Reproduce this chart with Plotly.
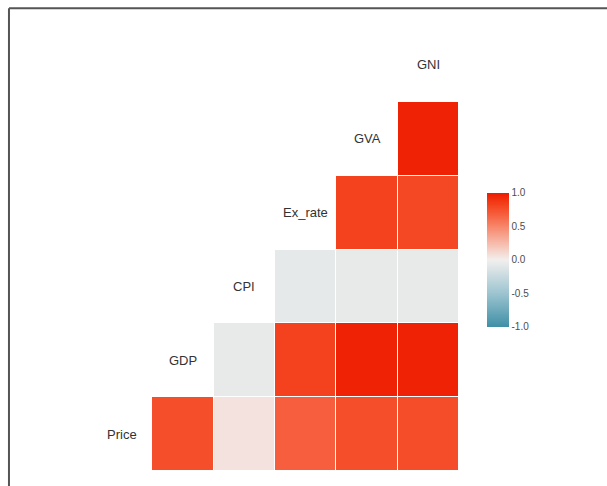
import plotly.graph_objects as go

variables = ["Price", "GDP", "CPI", "Ex_rate", "GVA", "GNI"]

# Pairwise correlations: each row lists the correlation of that variable
# with every variable that follows it in `variables`.
corr_price = [0.76, 0.06, 0.68, 0.76, 0.77]
corr_gdp = [-0.06, 0.82, 0.97, 0.97]
corr_cpi = [-0.07, -0.06, -0.06]
corr_ex_rate = [0.82, 0.79]
corr_gva = [0.97]

upper_rows = [corr_price, corr_gdp, corr_cpi, corr_ex_rate, corr_gva, []]

n = len(variables)
z = []
for i, row in enumerate(upper_rows):
    line = [None] * n
    for k, v in enumerate(row):
        line[i + 1 + k] = v
    z.append(line)

colorscale = [
    [0.0, "#3f8fa6"],
    [0.25, "#9cc4d0"],
    [0.5, "#f2efee"],
    [0.6, "#f6c5b8"],
    [0.75, "#f7866a"],
    [0.85, "#f65a38"],
    [0.925, "#f33c18"],
    [1.0, "#ee1c00"],
]

fig = go.Figure(
    go.Heatmap(
        z=z,
        x=list(range(n)),
        y=list(range(n)),
        zmin=-1,
        zmax=1,
        colorscale=colorscale,
        xgap=1,
        ygap=1,
        hoverongaps=False,
        colorbar=dict(
            x=1.075,
            xanchor="left",
            xpad=0,
            y=0.477,
            yanchor="middle",
            len=0.303,
            lenmode="fraction",
            thickness=22,
            outlinewidth=0,
            tickvals=[-1, -0.5, 0, 0.5, 1],
            ticktext=["-1.0", "-0.5", "0.0", "0.5", "1.0"],
            ticks="",
            tickfont=dict(family="Liberation Sans", size=10, color="#4d4d4d"),
            ypad=0,
        ),
    )
)

# Variable names sit on the diagonal of the grid
for i, name in enumerate(variables):
    fig.add_annotation(
        x=i, y=i, text=name, showarrow=False,
        font=dict(family="Liberation Sans", size=13, color="#333333"),
        xanchor="center", yanchor="middle",
    )

# Frame lines along the top and left edges
fig.add_shape(type="line", xref="paper", yref="paper",
              x0=-0.2229, y0=1.0445, x1=1.41, y1=1.0445,
              line=dict(color="#555555", width=2))
fig.add_shape(type="line", xref="paper", yref="paper",
              x0=-0.2229, y0=1.0445, x1=-0.2229, y1=-0.05,
              line=dict(color="#555555", width=2))

fig.update_xaxes(range=[-0.5, 5.5], visible=False, fixedrange=True)
fig.update_yaxes(range=[-0.5, 5.5], visible=False, fixedrange=True)

fig.update_layout(
    width=607,
    height=486,
    margin=dict(l=91, r=148, t=28, b=15),
    paper_bgcolor="white",
    plot_bgcolor="white",
    showlegend=False,
)

fig.write_html("out.html")
